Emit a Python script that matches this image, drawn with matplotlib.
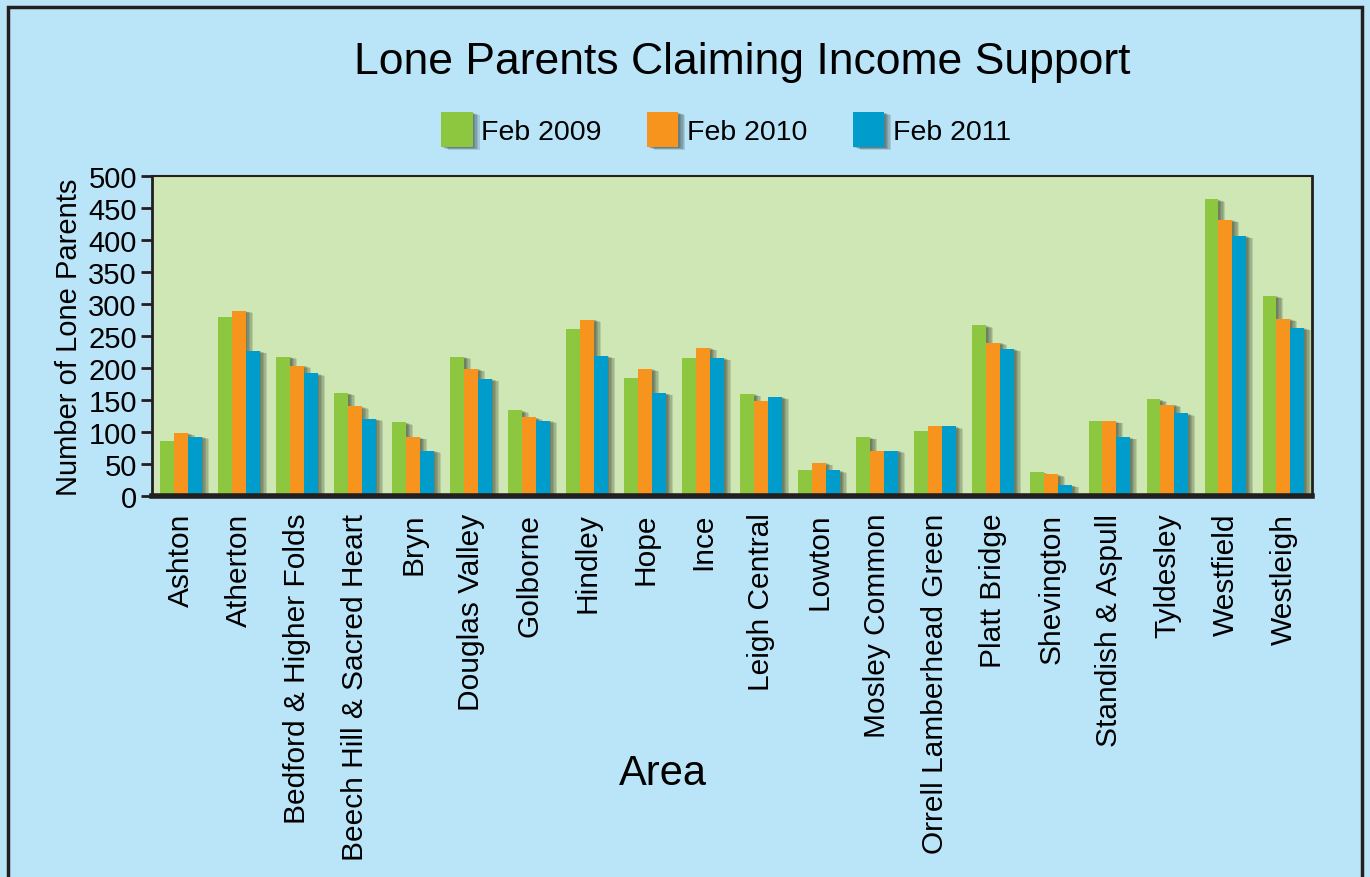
import matplotlib
matplotlib.use('Agg')
import numpy as np
import matplotlib.pyplot as plt
import matplotlib.patheffects as pe
from matplotlib.patches import Rectangle

plt.rcParams['font.family'] = ['Liberation Sans', 'DejaVu Sans']

areas = ['Ashton', 'Atherton', 'Bedford & Higher Folds', 'Beech Hill & Sacred Heart',
         'Bryn', 'Douglas Valley', 'Golborne', 'Hindley', 'Hope', 'Ince',
         'Leigh Central', 'Lowton', 'Mosley Common', 'Orrell Lamberhead Green',
         'Platt Bridge', 'Shevington', 'Standish & Aspull', 'Tyldesley',
         'Westfield', 'Westleigh']
feb_2009 = [86, 280, 218, 161, 115, 218, 134, 261, 185, 216,
            160, 40, 92, 101, 267, 37, 117, 151, 464, 313]
feb_2010 = [99, 290, 204, 140, 92, 199, 123, 276, 199, 232,
            148, 52, 70, 109, 240, 34, 117, 143, 432, 277]
feb_2011 = [93, 227, 192, 121, 71, 183, 118, 219, 161, 216,
            155, 40, 71, 109, 230, 17, 92, 129, 407, 263]
series = ['Feb 2009', 'Feb 2010', 'Feb 2011']
colors = ['#8dc63f', '#f7941e', '#009ccc']

fig = plt.figure(figsize=(13.7, 8.78), dpi=100)
fig.patch.set_facecolor('#bae5f9')
fig.patches.append(Rectangle((0.006, -0.02), 0.988, 1.011, transform=fig.transFigure,
                             fill=False, edgecolor='#231f20', linewidth=2.5))

ax = fig.add_axes([0.111, 0.434, 0.847, 0.364])
ax.set_facecolor('#cfe6b5')

# soft drop shadow built from a few stacked offsets
shadow = [pe.SimplePatchShadow(offset=(d, -d / 3), shadow_rgbFace='#1e2a1e', alpha=0.14)
          for d in (1, 2, 3, 4, 5)] + [pe.Normal()]

x = np.arange(len(areas))
w = 0.24
for i, (vals, lab, col) in enumerate(zip([feb_2009, feb_2010, feb_2011], series, colors)):
    bars = ax.bar(x + (i - 1) * w, vals, w, color=col, label=lab, zorder=3 + i * 0.1)
    for b in bars:
        b.set_path_effects(shadow)

ax.set_xlim(-0.5, len(areas) - 0.5)
ax.set_ylim(0, 500)
ax.set_yticks(range(0, 501, 50))
ax.set_xticks(x)
ax.set_xticklabels(areas, rotation=90, fontsize=21.5)
ax.tick_params(axis='y', labelsize=21, length=8, width=2, direction='out', color='#231f20', pad=3)
ax.tick_params(axis='x', length=0, pad=12)
for s in ['left', 'right', 'top']:
    ax.spines[s].set_color('#231f20')
    ax.spines[s].set_linewidth(2)
ax.spines['top'].set_linewidth(1.5)
ax.spines['bottom'].set_color('#231f20')
ax.spines['bottom'].set_linewidth(4)
ax.spines['bottom'].set_zorder(5)

ax.set_ylabel('Number of Lone Parents', fontsize=21, labelpad=4)
ax.set_xlabel('Area', fontsize=30)
ax.xaxis.set_label_coords(0.44, -0.805)

fig.text(0.542, 0.929, 'Lone Parents Claiming Income Support', ha='center', va='center', fontsize=32)

leg = fig.legend(loc='center', bbox_to_anchor=(0.53, 0.851), ncol=3, frameon=False,
                 fontsize=20.5, handlelength=1.1, handleheight=1.5, handletextpad=0.3,
                 columnspacing=1.6)
for h in leg.legend_handles:
    h.set_path_effects(shadow)

fig.savefig('out.png', dpi=100, facecolor=fig.get_facecolor())
